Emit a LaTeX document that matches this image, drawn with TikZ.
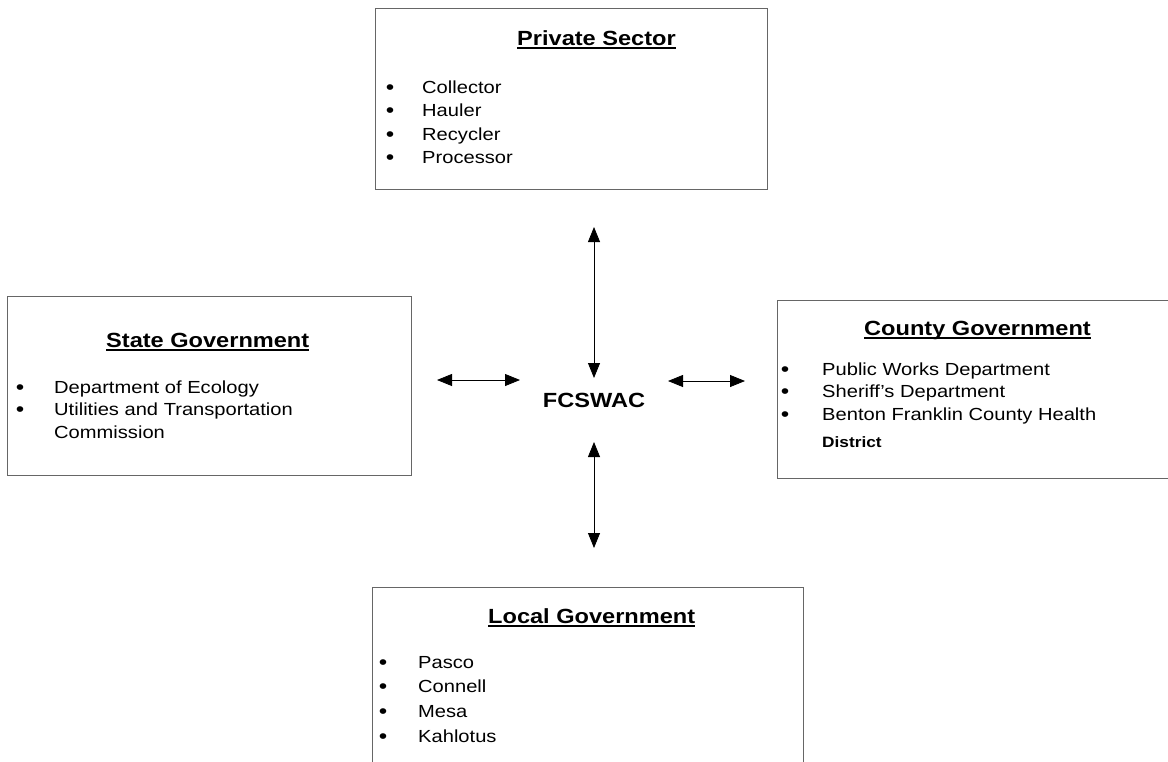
\documentclass[tikz,border=0pt]{standalone}
\usepackage{fontspec}
\setmainfont{Liberation Sans}[FakeStretch=1.15]
\usetikzlibrary{arrows.meta}
\newcommand\myul[1]{\setbox0\hbox{#1}\rlap{\rule[-3.5pt]{\wd0}{1.3pt}}\box0}
\begin{document}
\begin{tikzpicture}[x=1pt,y=-1pt,
 frame/.style={draw=black!60, line width=0.6pt, anchor=north west, inner sep=0},
 ttl/.style={anchor=base west, inner sep=0, font=\fontsize{20.5}{24}\selectfont\bfseries},
 itm/.style={anchor=base west, inner sep=0, font=\fontsize{17.5}{21}\selectfont},
 sml/.style={anchor=base west, inner sep=0, font=\fontsize{15}{18}\selectfont\bfseries},
 bul/.style={anchor=base, inner sep=0, font=\fontsize{21}{24}\selectfont},
 link/.style={line width=0.8pt, {Triangle[length=15pt,width=12pt]}-{Triangle[length=15pt,width=12pt]}}]
\clip (0,0) rectangle (1168,761);
\fill[white] (0,0) rectangle (1168,761);

% Private Sector
\node[frame, minimum width=392pt, minimum height=181pt] (pbox) at (375,8) {};
\node[ttl] (pt) at (517,45) {\myul{Private Sector}};
\node[bul] (pb1) at (390,94) {•}; \node[itm] (p1) at (422,93) {Collector};
\node[bul] (pb2) at (390,117) {•}; \node[itm] (p2) at (422,116) {Hauler};
\node[bul] (pb3) at (390,141) {•}; \node[itm] (p3) at (422,140) {Recycler};
\node[bul] (pb4) at (390,164) {•}; \node[itm] (p4) at (422,163) {Processor};

% State Government
\node[frame, minimum width=404pt, minimum height=179pt] (sbox) at (7,296) {};
\node[ttl] (st) at (106,347) {\myul{State Government}};
\node[bul] (sb1) at (20,394) {•}; \node[itm] (s1) at (54,393) {Department of Ecology};
\node[bul] (sb2) at (20,416) {•}; \node[itm] (s2) at (54,415) {Utilities and Transportation};
\node[itm] (s3) at (54,438) {Commission};

% County Government
\node[frame, minimum width=420pt, minimum height=178pt] (cbox) at (777,300) {};
\node[ttl] (ct) at (864,335) {\myul{County Government}};
\node[bul] (cb1) at (785,376) {•}; \node[itm] (c1) at (822,375) {Public Works Department};
\node[bul] (cb2) at (785,398) {•}; \node[itm] (c2) at (822,397) {Sheriff's Department};
\node[bul] (cb3) at (785,421) {•}; \node[itm] (c3) at (822,420) {Benton Franklin County Health};
\node[sml] (c4) at (822,447) {District};

% Local Government
\node[frame, minimum width=431pt, minimum height=200pt] (lbox) at (372,587) {};
\node[ttl] (lt) at (488,623) {\myul{Local Government}};
\node[bul] (lb1) at (383,669) {•}; \node[itm] (l1) at (418,668) {Pasco};
\node[bul] (lb2) at (383,693) {•}; \node[itm] (l2) at (418,692) {Connell};
\node[bul] (lb3) at (383,718) {•}; \node[itm] (l3) at (418,717) {Mesa};
\node[bul] (lb4) at (383,743) {•}; \node[itm] (l4) at (418,742) {Kahlotus};

% Centre
\node[anchor=center, inner sep=0, font=\fontsize{20.5}{24}\selectfont\bfseries] (fc) at (594,400) {FCSWAC};

\coordinate (at1) at (594,227); \coordinate (at2) at (594,378);
\coordinate (al1) at (437,380); \coordinate (al2) at (520,380);
\coordinate (ar1) at (668,381); \coordinate (ar2) at (745,381);
\coordinate (ab1) at (594,442); \coordinate (ab2) at (594,548);
\draw[link] (at1) -- (at2);
\draw[link] (al1) -- (al2);
\draw[link] (ar1) -- (ar2);
\draw[link] (ab1) -- (ab2);
\end{tikzpicture}
\end{document}
